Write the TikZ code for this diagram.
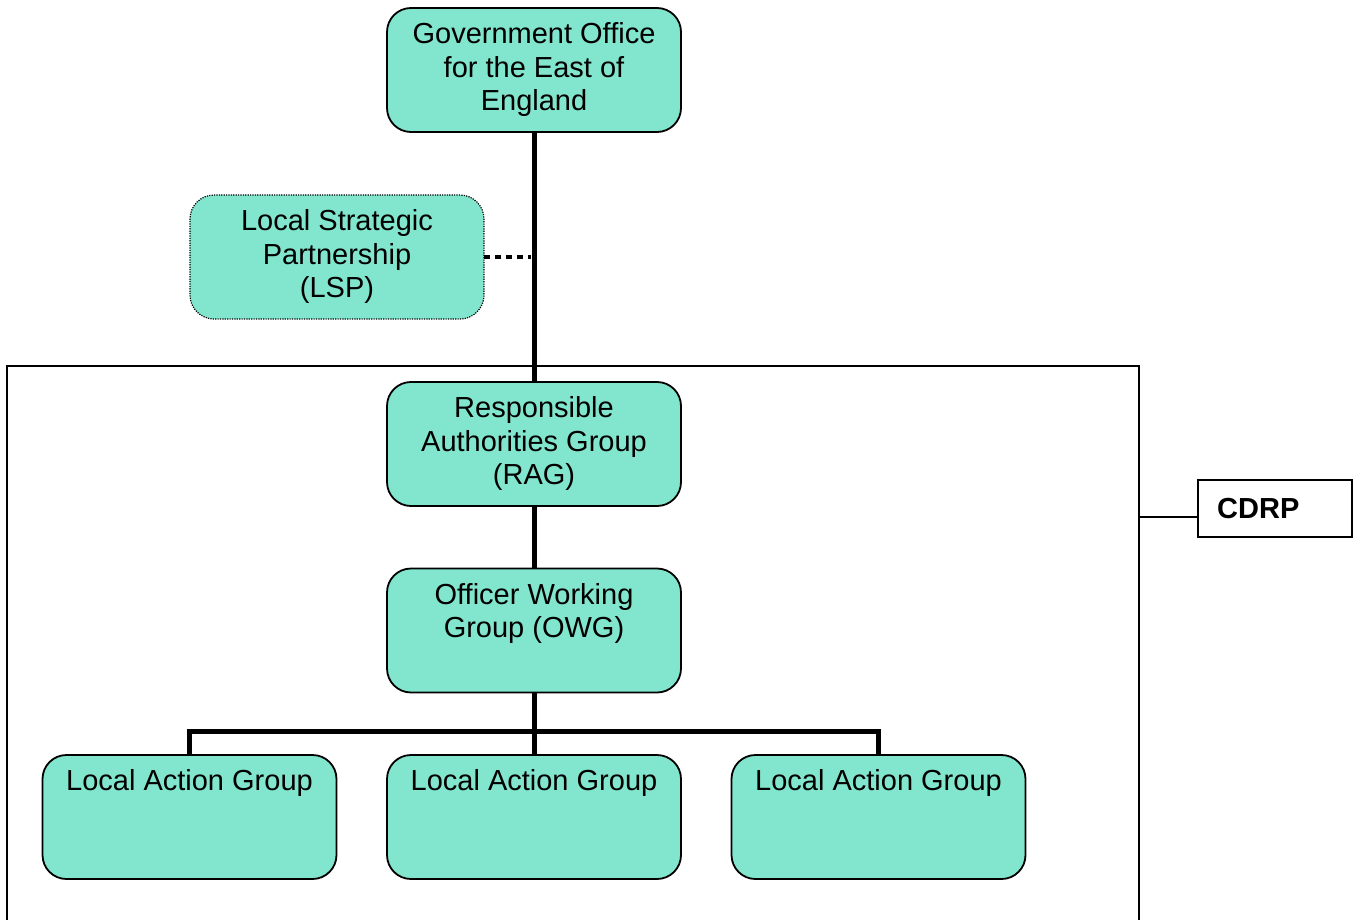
\documentclass[tikz,border=0pt]{standalone}
\usepackage{fontspec}
\setmainfont{Liberation Sans}
\definecolor{boxfill}{RGB}{130,229,205}
\begin{document}
\begin{tikzpicture}[x=1pt,y=-1pt,
  orgbox/.style={draw=black, line width=1.8pt, fill=boxfill, rounded corners=24pt,
    minimum width=294pt, minimum height=124pt, inner sep=0pt, outer sep=0pt},
  lspbox/.style={orgbox, line width=1.2pt, dash pattern=on 1.2pt off 1.2pt},
  boxtext/.style={anchor=north, align=center, inner sep=0pt, yshift=-14.5pt,
    font=\fontsize{29}{33.5}\selectfont},
  thickline/.style={line width=5pt},
  thinline/.style={line width=1.5pt}]
\useasboundingbox (0,0) rectangle (1359,920);
% CDRP frame
\draw[thinline] (7,930) -- (7,366) -- (1139,366) -- (1139,930);
\coordinate (frameR) at (1139,517);
\node[draw, thinline, minimum width=154pt, minimum height=57pt, inner sep=0pt,
  anchor=west] (cdrp) at (1197,508.5) {};
\node[anchor=west, inner sep=0pt, font=\fontsize{29}{33.5}\selectfont\bfseries] (cdrpt) at (1217,508.5) {CDRP};
\draw[thinline] (frameR) -- (cdrp.west |- frameR);
% boxes
\node[orgbox] (go) at (534,70) {};
\node[lspbox] (lsp) at (337,257) {};
\node[orgbox] (rag) at (534,444) {};
\node[orgbox] (owg) at (534,630.5) {};
\node[orgbox] (lag1) at (189.5,817) {};
\node[orgbox] (lag2) at (534,817) {};
\node[orgbox] (lag3) at (878.5,817) {};
% connectors
\draw[thickline] (go.south) -- (rag.north);
\draw[line width=4pt, dash pattern=on 6pt off 5pt] (lsp.east) -- (531,257);
\draw[thickline] (rag.south) -- (owg.north);
\coordinate (bus) at (534,731);
\draw[thickline] (owg.south) -- (lag2.north);
\draw[thickline] (lag1.north) -- (lag1.north |- bus) -- (lag3.north |- bus) -- (lag3.north);
% texts
\node[boxtext] (got) at (go.north) {Government Office\\for the East of\\England};
\node[boxtext] (lspt) at (lsp.north) {Local Strategic\\Partnership\\(LSP)};
\node[boxtext] (ragt) at (rag.north) {Responsible\\Authorities Group\\(RAG)};
\node[boxtext] (owgt) at (owg.north) {Officer Working\\Group (OWG)};
\node[boxtext] (lag1t) at (lag1.north) {Local Action Group};
\node[boxtext] (lag2t) at (lag2.north) {Local Action Group};
\node[boxtext] (lag3t) at (lag3.north) {Local Action Group};
\end{tikzpicture}
\end{document}
